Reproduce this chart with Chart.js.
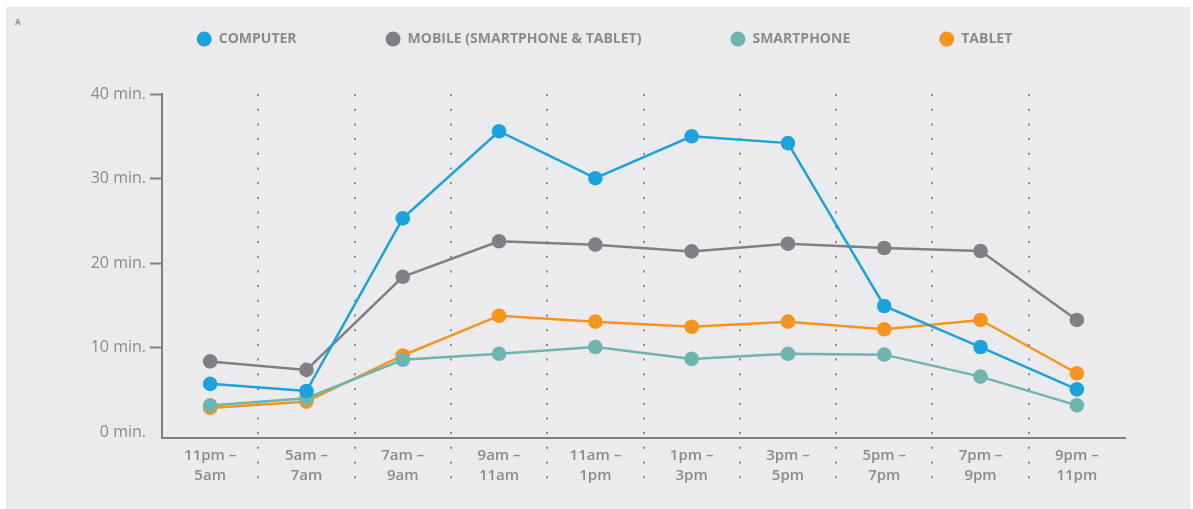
<html lang="en">

<head>
    <meta charset="UTF-8" />
    <title>Chart</title>
    <style>
        body {
            margin: 0;
            background: #ffffff;
        }
        .panel {
            position: absolute;
            left: 6px;
            top: 7px;
            width: 1184px;
            height: 502px;
            background: #ebebed;
        }
        .tag {
            position: absolute;
            left: 9px;
            top: 9px;
            font: 700 8px "Open Sans";
            color: #8b8b8e;
        }
    </style>
</head>

<body>
    <div class="panel">
        <div class="tag">A</div>
        <canvas id="myChart" width="1184" height="502"></canvas>
    </div>

    <script src="https://cdn.jsdelivr.net/npm/chart.js"></script>

    <script>
        // data
        const labels = [
            ["11pm –", "5am"], ["5am –", "7am"], ["7am –", "9am"], ["9am –", "11am"], ["11am –", "1pm"],
            ["1pm –", "3pm"], ["3pm –", "5pm"], ["5pm –", "7pm"], ["7pm –", "9pm"], ["9pm –", "11pm"]
        ];
        const computer = [5.75, 4.9, 25.3, 35.6, 30.05, 35.0, 34.2, 14.95, 10.1, 5.1];
        const mobile = [8.4, 7.4, 18.4, 22.6, 22.2, 21.4, 22.3, 21.8, 21.45, 13.3];
        const smartphone = [3.2, 4.05, 8.6, 9.3, 10.1, 8.7, 9.3, 9.2, 6.6, 3.2];
        const tablet = [2.9, 3.65, 9.1, 13.8, 13.1, 12.5, 13.1, 12.2, 13.3, 7.0];
        const yTicks = [0, 10, 20, 30, 40];

        const textGrey = "#8b8b8e";
        const axisGrey = "#7f7f82";

        function series(label, values, color) {
            return {
                label: label,
                data: values,
                borderColor: color,
                backgroundColor: color,
                pointBackgroundColor: color,
                pointBorderWidth: 0,
                pointRadius: 7.3,
                borderWidth: 2.5,
                tension: 0,
                clip: false,
            };
        }

        const data = {
            labels,
            datasets: [
                series("COMPUTER", computer, "#1aa3dd"),
                series("MOBILE (SMARTPHONE & TABLET)", mobile, "#808084"),
                series("SMARTPHONE", smartphone, "#6fb5af"),
                series("TABLET", tablet, "#f7941d"),
            ],
        };

        // dotted separators between the time slots
        const separators = {
            id: "separators",
            beforeDatasetsDraw(chart) {
                const x = chart.scales.x;
                const area = chart.chartArea;
                const ctx = chart.ctx;
                ctx.save();
                ctx.strokeStyle = "#8a8a8d";
                ctx.lineWidth = 2;
                ctx.setLineDash([2, 12.7]);
                for (let i = 0; i < labels.length - 1; i++) {
                    const px = Math.round((x.getPixelForValue(i) + x.getPixelForValue(i + 1)) / 2);
                    ctx.beginPath();
                    ctx.moveTo(px, area.top);
                    ctx.lineTo(px, area.bottom + 48);
                    ctx.stroke();
                }
                ctx.restore();
            },
        };

        // keep the legend high with wide gaps between items
        const legendSpace = {
            id: "legendSpace",
            beforeInit(chart) {
                const fit = chart.legend.fit;
                chart.legend.fit = function () {
                    fit.bind(chart.legend)();
                    this.height = 151;
                };
            },
        };

        const config = {
            type: "line",
            data,
            plugins: [separators, legendSpace],
            options: {
                responsive: false,
                animation: false,
                layout: {
                    padding: { top: -64, right: 65, bottom: 0, left: 78 },
                },
                plugins: {
                    tooltip: { enabled: false },
                    legend: {
                        position: "top",
                        labels: {
                            usePointStyle: true,
                            pointStyle: "circle",
                            boxHeight: 10.6,
                            pointStyleWidth: 15,
                            padding: 89,
                            color: textGrey,
                            font: { family: "Open Sans", size: 14, weight: "700" },
                        },
                    },
                },
                scales: {
                    x: {
                        offset: true,
                        afterFit(scale) {
                            scale.height = 71;
                        },
                        grid: { display: false },
                        border: { display: true, color: axisGrey, width: 2 },
                        ticks: {
                            color: textGrey,
                            padding: 0,
                            maxRotation: 0,
                            autoSkip: false,
                            font: { family: "Open Sans", size: 15, weight: "600", lineHeight: 1.3 },
                        },
                    },
                    y: {
                        min: -0.65,
                        max: 40,
                        afterFit(scale) {
                            scale.width = 78;
                        },
                        afterBuildTicks(scale) {
                            scale.ticks = yTicks.map((v) => ({ value: v }));
                        },
                        grid: {
                            drawOnChartArea: false,
                            drawTicks: true,
                            tickLength: 12,
                            tickWidth: 2,
                            tickColor: (ctx) => (ctx.tick && ctx.tick.value === 0 ? "rgba(0,0,0,0)" : axisGrey),
                        },
                        border: { display: true, color: axisGrey, width: 2 },
                        ticks: {
                            color: textGrey,
                            padding: 4,
                            font: { family: "Open Sans", size: 16, weight: "400" },
                            callback: (v) => v + " min.",
                        },
                    },
                },
            },
        };

        // render
        const myChart = new Chart(document.getElementById("myChart"), config);
    </script>
</body>

</html>
